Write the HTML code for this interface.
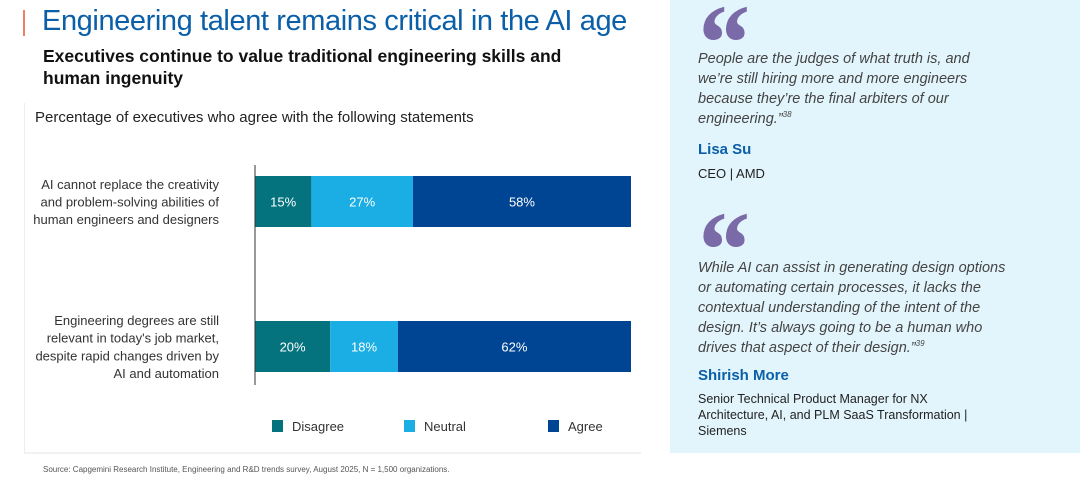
<!DOCTYPE html>
<html><head><meta charset="utf-8"><style>
body{margin:0;width:1080px;height:483px;background:#fff;font-family:"Liberation Sans",sans-serif;position:relative;overflow:hidden}
.abs{position:absolute}
</style></head><body>
<div class="abs" style="left:23px;top:10px;width:2px;height:26px;background:#f07c6c"></div>
<div class="abs" style="left:42px;top:5px;font-size:29px;color:#0b5fa8;letter-spacing:-0.4px;white-space:nowrap">Engineering talent remains critical in the AI age</div>
<div class="abs" style="left:43px;top:45px;font-size:17.5px;font-weight:bold;color:#111;line-height:22px;width:560px">Executives continue to value traditional engineering skills and human ingenuity</div>
<div class="abs" style="left:24px;top:103px;width:616px;height:349px;border-left:1px solid #eee;border-bottom:2px solid #f2f2f2"></div>
<div class="abs" style="left:35px;top:109px;font-size:15px;color:#222;white-space:nowrap">Percentage of executives who agree with the following statements</div>
<svg class="abs" style="left:0;top:0" width="660" height="483" id="chart"></svg>
<div class="abs" style="left:43px;top:465px;font-size:8px;color:#555;white-space:nowrap">Source: Capgemini Research Institute, Engineering and R&amp;D trends survey, August 2025, N = 1,500 organizations.</div>

<div class="abs" style="left:670px;top:0;width:410px;height:453px;background:#e3f5fc"></div>
<div class="abs" style="left:693px;top:-12px;font-size:110px;line-height:110px;font-weight:bold;font-style:italic;color:#7b6aa8;font-family:'Liberation Serif',serif">“</div>
<div class="abs" style="left:698px;top:49px;font-size:14.5px;font-style:italic;color:#444;line-height:20px;width:300px">People are the judges of what truth is, and we’re still hiring more and more engineers because they’re the final arbiters of our engineering.”<sup style="font-size:8px;line-height:0">38</sup></div>
<div class="abs" style="left:698px;top:141px;font-size:15px;font-weight:bold;color:#0b5fa8">Lisa Su</div>
<div class="abs" style="left:698px;top:166px;font-size:13px;color:#222">CEO | AMD</div>
<div class="abs" style="left:693px;top:195px;font-size:110px;line-height:110px;font-weight:bold;font-style:italic;color:#7b6aa8;font-family:'Liberation Serif',serif">“</div>
<div class="abs" style="left:698px;top:258px;font-size:14.5px;font-style:italic;color:#444;line-height:20px;width:322px">While AI can assist in generating design options or automating certain processes, it lacks the contextual understanding of the intent of the design. It’s always going to be a human who drives that aspect of their design.”<sup style="font-size:8px;line-height:0">39</sup></div>
<div class="abs" style="left:698px;top:367px;font-size:15px;font-weight:bold;color:#0b5fa8">Shirish More</div>
<div class="abs" style="left:698px;top:391px;font-size:12.5px;color:#222;line-height:16px;width:300px">Senior Technical Product Manager for NX Architecture, AI, and PLM SaaS Transformation | Siemens</div>

<script>
const categories=[["AI cannot replace the creativity","and problem-solving abilities of","human engineers and designers"],["Engineering degrees are still","relevant in today's job market,","despite rapid changes driven by","AI and automation"]];
const seriesNames=["Disagree","Neutral","Agree"];
const disagree=[15,20];
const neutral=[27,18];
const agree=[58,62];
const colors=["#05737e","#1aaee5","#004593"];
const svg=document.getElementById('chart');const NS='http://www.w3.org/2000/svg';
const x0=255,x1=631;const xs=v=>x0+(x1-x0)*v/100;
const barTop=[176,321],barH=51;
function el(t,a){const e=document.createElementNS(NS,t);for(const k in a)e.setAttribute(k,a[k]);svg.appendChild(e);return e;}
const series=[disagree,neutral,agree];
categories.forEach((lines,i)=>{
 let acc=0;
 series.forEach((s,j)=>{
  const r=el('rect',{x:xs(acc),y:barTop[i],width:xs(acc+s[i])-xs(acc),height:barH,fill:colors[j]});
  
  
  const t=el('text',{x:(xs(acc)+xs(acc+s[i]))/2,y:barTop[i]+barH/2+5,'text-anchor':'middle','font-size':13,fill:'#fff'});
  t.textContent=s[i]+'%';
  
  
  acc+=s[i];
 });
 const cy=barTop[i]+barH/2,n=lines.length;
 lines.forEach((ln,k)=>{
  const t=el('text',{x:219,y:cy+(k-(n-1)/2)*17.7+5,'text-anchor':'end','font-size':13,fill:'#333'});
  t.textContent=ln;
  
  
 });
});
const ax=el('line',{x1:x0,x2:x0,y1:165,y2:385,stroke:'#333','stroke-width':1});


const lx=[272,404,548];
seriesNames.forEach((n,j)=>{
 const r=el('rect',{x:lx[j],y:420,width:11,height:12,fill:colors[j]});
 
 
 const t=el('text',{x:lx[j]+20,y:431,'font-size':13,fill:'#333'});
 t.textContent=n;
 
 
});
</script>
</body></html>
